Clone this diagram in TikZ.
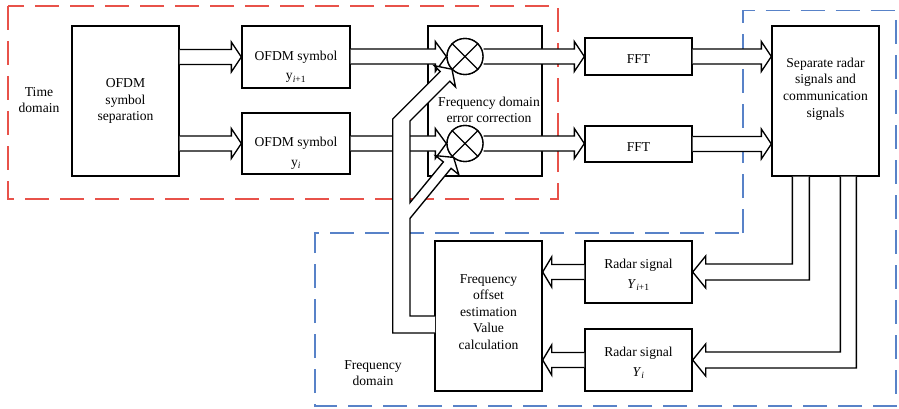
\documentclass[tikz,border=0pt]{standalone}
\usepackage{fontspec}
\setmainfont{Liberation Serif}
\usetikzlibrary{calc}
\definecolor{redd}{RGB}{232,82,74}
\definecolor{blued}{RGB}{88,130,200}
\tikzset{
  box/.style={draw=black, line width=1.35pt, rectangle, inner sep=0pt},
  txt/.style={align=center, inner sep=0pt, font=\fontsize{13.6}{16.5}\selectfont},
  arrowbody/.style={draw=black, fill=white, line width=1.35pt, line join=miter},
  region/.style={line width=1.4pt, dash pattern=on 24pt off 11pt},
  mult/.style={circle, draw=black, fill=white, line width=1.35pt, minimum size=36pt, inner sep=0pt}
}
% straight hollow arrow: start anchor, tip anchor, level node, signed head length
\newcommand\hollow[4]{%
  \filldraw[arrowbody] let \p1=(#1), \p2=(#2), \p3=(#3) in
    (\x1,\y3+7.5pt) -- (\x2+#4,\y3+7.5pt) -- (\x2+#4,\y3+15pt) -- (\x2,\y3)
    -- (\x2+#4,\y3-15pt) -- (\x2+#4,\y3-7.5pt) -- (\x1,\y3-7.5pt);}
% bent hollow arrow: inner start, outer start, target anchor
\newcommand\bent[3]{%
  \filldraw[arrowbody] let \p1=(#1), \p2=(#2), \p3=(#3) in
    (\x1,\y1) -- (\x1,\y3+8pt) -- (\x3+13pt,\y3+8pt) -- (\x3+13pt,\y3+16pt) -- (\x3,\y3)
    -- (\x3+13pt,\y3-16pt) -- (\x3+13pt,\y3-8pt) -- (\x2,\y3-8pt) -- (\x2,\y2);}
\begin{document}
\begin{tikzpicture}[x=1pt,y=-1pt]
\useasboundingbox (0,0) rectangle (899,409);

% regions
\draw[region, draw=redd] (8,6) rectangle (558,199);
\draw[region, draw=blued] (743,233) -- (743,10.5) -- (896,10.5) -- (896,406) -- (315,406) -- (315,233) -- cycle;
\node[txt] (tdom) at (39,100) {Time\\domain};
\node[txt] (fdom) at (373,373) {Frequency\\domain};

% boxes
\node[box, minimum width=107pt, minimum height=150pt] (sep) at (125.5,101) {};
\node[txt] (septxt) at (sep.center) {OFDM\\symbol\\separation};
\node[box, minimum width=108pt, minimum height=62pt] (sym1) at (296,57) {};
\node[txt] (sym1txt) at (296,67) {OFDM symbol\\[3pt] y\textsubscript{\itshape i\upshape+1}};
\node[box, minimum width=108pt, minimum height=61pt] (sym0) at (296,143.5) {};
\node[txt] (sym0txt) at (296,153) {OFDM symbol\\[3pt] y\textsubscript{\itshape i}};
\node[box, minimum width=114pt, minimum height=150pt] (fdec) at (485,101) {};
\node[box, minimum width=107pt, minimum height=37pt] (fft1) at (638.5,56.5) {};
\node[txt] (fft1txt) at (638.5,59.5) {FFT};
\node[box, minimum width=107pt, minimum height=36pt] (fft0) at (638.5,144) {};
\node[txt] (fft0txt) at (638.5,147) {FFT};
\node[box, minimum width=107pt, minimum height=150pt] (sepr) at (825.5,101) {};
\node[txt] (seprtxt) at (825.5,89) {Separate radar\\signals and\\communication\\signals};
\node[box, minimum width=107pt, minimum height=150pt] (foff) at (488.5,316) {};
\node[txt] (fofftxt) at (488.5,312) {Frequency\\offset\\estimation\\Value\\calculation};
\node[box, minimum width=107pt, minimum height=62pt] (radar1) at (638.5,272) {};
\node[txt] (radar1txt) at (638.5,275) {Radar signal\\[3pt] \textit{Y}\textsubscript{\itshape i\upshape+1}};
\node[box, minimum width=107pt, minimum height=62pt] (radar0) at (638.5,360) {};
\node[txt] (radar0txt) at (638.5,363) {Radar signal\\[3pt] \textit{Y}\textsubscript{\itshape i}};

% multipliers (positions)
\coordinate (c1pos) at (465,56.5);
\coordinate (c0pos) at (465,143.5);
\node[mult] (c1) at (c1pos) {};
\node[mult] (c0) at (c0pos) {};

% straight hollow arrows
\hollow{sep.east}{sym1.west}{sym1.center}{-10pt}
\hollow{sep.east}{sym0.west}{sym0.center}{-10pt}
\hollow{sym1.east}{c1.west}{c1.center}{-11pt}
\hollow{sym0.east}{c0.west}{c0.center}{-11pt}
\hollow{c1.east}{fft1.west}{c1.center}{-10pt}
\hollow{c0.east}{fft0.west}{c0.center}{-10pt}
\hollow{fft1.east}{sepr.west}{fft1.center}{-10pt}
\hollow{fft0.east}{sepr.west}{fft0.center}{-10pt}
\hollow{radar1.west}{foff.east}{radar1.center}{9pt}
\hollow{radar0.west}{foff.east}{radar0.center}{9pt}

% bent arrows from separation block
\coordinate (s1a) at ($(sepr.south west)+(21,0)$);
\coordinate (s1b) at ($(sepr.south west)+(38,0)$);
\coordinate (s0a) at ($(sepr.south west)+(69,0)$);
\coordinate (s0b) at ($(sepr.south west)+(85,0)$);
\bent{s1a}{s1b}{radar1.east}
\bent{s0a}{s0b}{radar0.east}

% feedback arrow (offset estimate to both multipliers)
\filldraw[arrowbody] (435,316) -- (410,316) -- (410,218.39) -- (451.10,168.31) -- (458.83,174.66)
  -- (453.58,157.41) -- (435.63,155.62) -- (443.37,161.97) -- (410,202.63) -- (410,121)
  -- (449.8,81.2) -- (455.5,86.9) -- (451.97,69.23) -- (434.3,65.7) -- (440.15,71.55)
  -- (392.7,119) -- (392.7,333) -- (435,333);

% redraw multipliers on top
\node[mult] (c1b) at (c1pos) {};
\node[mult] (c0b) at (c0pos) {};
\draw[line width=1.35pt] (c1b.north west) -- (c1b.south east) (c1b.north east) -- (c1b.south west);
\draw[line width=1.35pt] (c0b.north west) -- (c0b.south east) (c0b.north east) -- (c0b.south west);

\node[txt] (fdectxt) at (489,110) {Frequency domain\\error correction};
\end{tikzpicture}
\end{document}
